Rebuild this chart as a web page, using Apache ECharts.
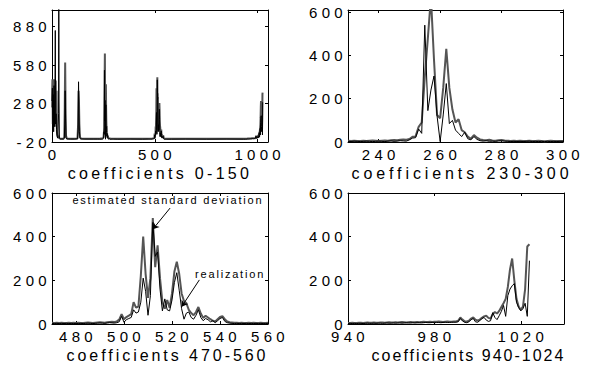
<!DOCTYPE html>
<html>
<head>
<meta charset="utf-8">
<script src="https://cdn.jsdelivr.net/npm/echarts@6.0.0/dist/echarts.min.js"></script>
<style>
  html, body { margin: 0; padding: 0; background: #fff; }
  #main { width: 592px; height: 365px; }
</style>
</head>
<body>
<div id="main"></div>
<script>
  // coefficients 230-300
  var start2 = 230;
  var std2 = [6, 5, 6, 5, 5, 6, 5, 6, 7, 6,
    5, 6, 7, 6, 8, 9, 8, 10, 12, 10,
    14, 24, 26, 70, 90, 300, 480, 670, 380, 125,
    110, 250, 430, 250, 150, 90, 105, 55, 45, 25,
    15, 32, 20, 12, 9, 8, 10, 7, 6, 8,
    9, 7, 6, 5, 6, 5, 6, 5, 5, 6,
    5, 5, 6, 5, 4, 5, 6, 5, 5, 5, 5];
  var real2 = [3, 2, 4, 3, 2, 3, 4, 3, 2, 3,
    4, 3, 2, 4, 5, 3, 4, 6, 5, 4,
    10, 18, 20, 60, 40, 540, 145, 240, 305, 120,
    2, 125, 270, 85, 100, 55, 40, 25, 45, 15,
    10, 25, 12, 6, 4, 6, 3, 4, 3, 5,
    6, 4, 3, 2, 3, 2, 3, 2, 3, 4,
    2, 3, 2, 3, 2, 3, 2, 3, 2, 3, 3];

  // coefficients 470-560
  var start3 = 470;
  var std3 = [6, 5, 6, 5, 6, 5, 5, 6, 5, 6,
    5, 6, 5, 5, 6, 7, 6, 5, 6, 7,
    8, 7, 6, 8, 9, 10, 9, 12,
    20, 45, 22, 32, 38, 45, 100, 75, 80, 220,
    400, 230, 120, 210, 485, 260, 360, 210, 100, 70,
    110, 75, 140, 240, 285, 230, 140, 105, 95, 65,
    50, 40, 55, 78, 48, 28, 38, 30, 22, 15,
    12, 22, 32, 36, 22, 12, 8,
    7, 6, 6, 5, 6, 5, 5, 6, 5, 6, 5, 5, 6, 5, 5, 6];
  var real3 = [3, 2, 3, 2, 3, 2, 3, 2, 3, 2,
    3, 2, 3, 2, 3, 4, 3, 2, 3, 4,
    5, 4, 3, 5, 6, 5, 4, 6,
    10, 35, 8, 20, 25, 30, 65, 50, 55, 100,
    210, 150, 40, 130, 465, 310, 330, 160, 60, 115,
    65, 60, 110, 190, 235, 155, 70, 22, 50, 55,
    30, 22, 40, 65, 30, 15, 25, 20, 10, 15,
    6, 15, 25, 30, 12, 6, 4,
    3, 2, 3, 2, 3, 2, 3, 2, 3, 2, 3, 2, 3, 2, 2, 3];

  // coefficients 940-1024
  var start4 = 940;
  var std4 = [5, 5, 6, 5, 5, 6, 6, 5, 6, 7,
    6, 6, 7, 6, 6, 7, 7, 6, 7, 8,
    7, 7, 8, 7, 8, 9, 8, 7, 8, 9,
    8, 8, 9, 8, 9, 10, 9, 9, 10, 9,
    10, 10, 11, 10, 9, 10, 11, 10, 10, 11,
    12, 15, 30, 20, 12, 12, 15, 25, 30, 20,
    15, 20, 28, 35, 38, 28, 25, 45, 55, 48,
    60, 78, 95, 115, 170, 250, 300, 200, 115, 80,
    65, 80, 160, 355, 365];
  var real4 = [2, 3, 2, 3, 2, 3, 3, 2, 3, 4,
    3, 3, 4, 3, 4, 4, 3, 4, 5, 4,
    4, 5, 4, 5, 5, 4, 5, 6, 5, 5,
    6, 5, 6, 6, 5, 6, 7, 6, 6, 7,
    6, 7, 7, 6, 7, 8, 7, 7, 8, 8,
    8, 10, 25, 14, 8, 6, 10, 20, 25, 10,
    8, 15, 25, 30, 18, 12, 15, 52, 30, 20,
    38, 58, 85, 35, 130, 160, 175, 185, 100, 75,
    60, 70, 95, 35, 290];

  // whole range: the points outside the three zoomed windows
  var p1X = [0, 2, 4, 6, 8, 10, 12, 14, 16, 18, 20, 22, 24, 26, 28, 30, 32, 33, 34, 36,
    40, 48, 56, 60, 62, 64, 66, 68, 72, 90, 110, 124, 127, 129, 131, 133, 136, 140, 160, 200,
    220, 320, 380, 440, 462, 580, 650, 750, 850, 930];
  var p1Std = [300, 470, 120, 460, 200, 470, 150, 440, 300, 460, 100, 380, 60, 40, 20, 15, 20, 30, 15, 8,
    6, 5, 6, 15, 250, 600, 240, 30, 8, 6, 5, 8, 120, 380, 300, 120, 20, 8, 6, 5,
    5, 5, 6, 5, 6, 5, 6, 5, 6, 5];
  var p1Real = [250, 400, 80, 350, 60, 420, 100, 300, 850, 120, 200, 80, 30, 20, 10, 8, 200, 1100, 300, 10,
    4, 3, 4, 10, 120, 380, 160, 15, 4, 3, 3, 5, 80, 450, 200, 60, 10, 4, 3, 3,
    3, 2, 3, 2, 3, 2, 3, 2, 3, 2];

  var names = ['coefficients 0-150', 'coefficients 230-300', 'coefficients 470-560', 'coefficients 940-1024'];
  var xTicks = [[0, 500, 1000], [240, 260, 280, 300], [480, 500, 520, 540, 560], [940, 980, 1020]];
  var yTicks = [[-20, 280, 580, 880], [0, 200, 400, 600], [0, 200, 400, 600], [0, 200, 400, 600]];

  function pairs(start, vals) {
    return vals.map(function (v, i) { return [start + i, v]; });
  }
  function whole(p1v, v2, v3, v4) {
    var pts = p1X.map(function (x, i) { return [x, p1v[i]]; })
      .concat(pairs(start2, v2), pairs(start3, v3), pairs(start4, v4));
    pts.sort(function (a, b) { return a[0] - b[0]; });
    return pts;
  }
  function plain(v) { return String(v); }

  var font = 'Liberation Sans, Arial, sans-serif';
  var grids = [
    {left: 52, top: 10, width: 216, height: 132},
    {left: 348, top: 10, width: 215, height: 132},
    {left: 52, top: 193, width: 216, height: 131},
    {left: 348, top: 193, width: 216, height: 131}
  ];
  var xRange = [[0, 1050], [230, 300], [470, 560], [940, 1040]];
  var yRange = [[-20, 1010], [0, 610], [0, 600], [0, 600]];
  var namePad = [[0, 0, 0, 0], [0, 0, 0, 13], [0, 0, 0, 15], [0, 0, 0, 25]];
  var line = {color: '#000', width: 1};

  // the original figure is stretched sideways, so its text is spaced out
  var spacing = {};
  spacing[names[0]] = 3.3;
  spacing[names[1]] = 3.9;
  spacing[names[2]] = 2.95;
  spacing[names[3]] = 2.0;
  spacing['estimated standard deviation'] = 1.8;
  spacing['realization'] = 1.8;
  var tickSpacing = 4.3;

  var xAxis = [], yAxis = [];
  for (var i = 0; i < 4; i++) {
    xAxis.push({
      gridIndex: i, type: 'value', position: 'bottom',
      min: xRange[i][0], max: xRange[i][1],
      axisLine: {onZero: false, lineStyle: line},
      axisTick: {inside: true, length: 3, customValues: xTicks[i], lineStyle: line},
      axisLabel: {customValues: xTicks[i], formatter: plain, color: '#000', fontSize: 15, fontFamily: font,
        margin: 5, padding: [0, 0, 0, 4]},
      splitLine: {show: false},
      name: names[i], nameLocation: 'middle', nameGap: 23,
      nameTextStyle: {color: '#000', fontSize: 16, fontFamily: font, padding: namePad[i]}
    });
    xAxis.push({
      gridIndex: i, type: 'value', position: 'top',
      min: xRange[i][0], max: xRange[i][1],
      axisLine: {onZero: false, lineStyle: line},
      axisTick: {inside: true, length: 3, customValues: xTicks[i], lineStyle: line},
      axisLabel: {show: false},
      splitLine: {show: false}
    });
    yAxis.push({
      gridIndex: i, type: 'value', position: 'left',
      min: yRange[i][0], max: yRange[i][1],
      axisLine: {show: true, onZero: false, lineStyle: line},
      axisTick: {show: true, inside: true, length: 3, customValues: yTicks[i], lineStyle: line},
      axisLabel: {customValues: yTicks[i], formatter: plain, color: '#000', fontSize: 15, fontFamily: font, margin: 1},
      splitLine: {show: false}
    });
    yAxis.push({
      gridIndex: i, type: 'value', position: 'right',
      min: yRange[i][0], max: yRange[i][1],
      axisLine: {show: true, onZero: false, lineStyle: line},
      axisTick: {show: true, inside: true, length: 3, customValues: yTicks[i], lineStyle: line},
      axisLabel: {show: false},
      splitLine: {show: false}
    });
  }

  var stdData = [whole(p1Std, std2, std3, std4), pairs(start2, std2), pairs(start3, std3), pairs(start4, std4)];
  var realData = [whole(p1Real, real2, real3, real4), pairs(start2, real2), pairs(start3, real3), pairs(start4, real4)];

  var series = [];
  for (var k = 0; k < 4; k++) {
    series.push({
      name: 'estimated standard deviation', type: 'line', xAxisIndex: 2 * k, yAxisIndex: 2 * k,
      data: stdData[k], showSymbol: false, symbol: 'none',
      lineStyle: {color: '#555555', width: 2}
    });
    series.push({
      name: 'realization', type: 'line', xAxisIndex: 2 * k, yAxisIndex: 2 * k,
      data: realData[k], showSymbol: false, symbol: 'none',
      lineStyle: {color: '#000000', width: 1}
    });
  }

  // labels and arrows of the third panel
  series[5].markLine = {
    silent: true, animation: false,
    symbol: ['none', 'arrow'], symbolSize: 6,
    label: {show: false},
    lineStyle: {color: '#000', width: 1, type: 'solid'},
    data: [
      [{coord: [519.2, 531]}, {coord: [512, 434]}],
      [{coord: [531.4, 202]}, {coord: [524, 79]}]
    ]
  };
  series[5].markPoint = {
    silent: true, animation: false,
    symbol: 'circle', symbolSize: 1,
    itemStyle: {color: 'rgba(0,0,0,0)'},
    label: {show: true, position: 'inside', formatter: '{b}', color: '#000', fontSize: 11, fontFamily: font},
    data: [
      {name: 'estimated standard deviation', coord: [518.3, 570]},
      {name: 'realization', coord: [544.2, 229]}
    ]
  };

  var myChart = echarts.init(document.getElementById('main'), null, {renderer: 'svg'});

  function spaceText() {
    var els = document.querySelectorAll('#main text');
    for (var j = 0; j < els.length; j++) {
      var t = els[j].textContent;
      var ls = spacing[t] != null ? spacing[t] : tickSpacing;
      els[j].style.letterSpacing = ls + 'px';
    }
  }
  myChart.on('finished', spaceText);

  myChart.setOption({
    animation: false,
    backgroundColor: '#fff',
    grid: grids,
    xAxis: xAxis,
    yAxis: yAxis,
    series: series
  });
  spaceText();
  setTimeout(spaceText, 0);
</script>
</body>
</html>
